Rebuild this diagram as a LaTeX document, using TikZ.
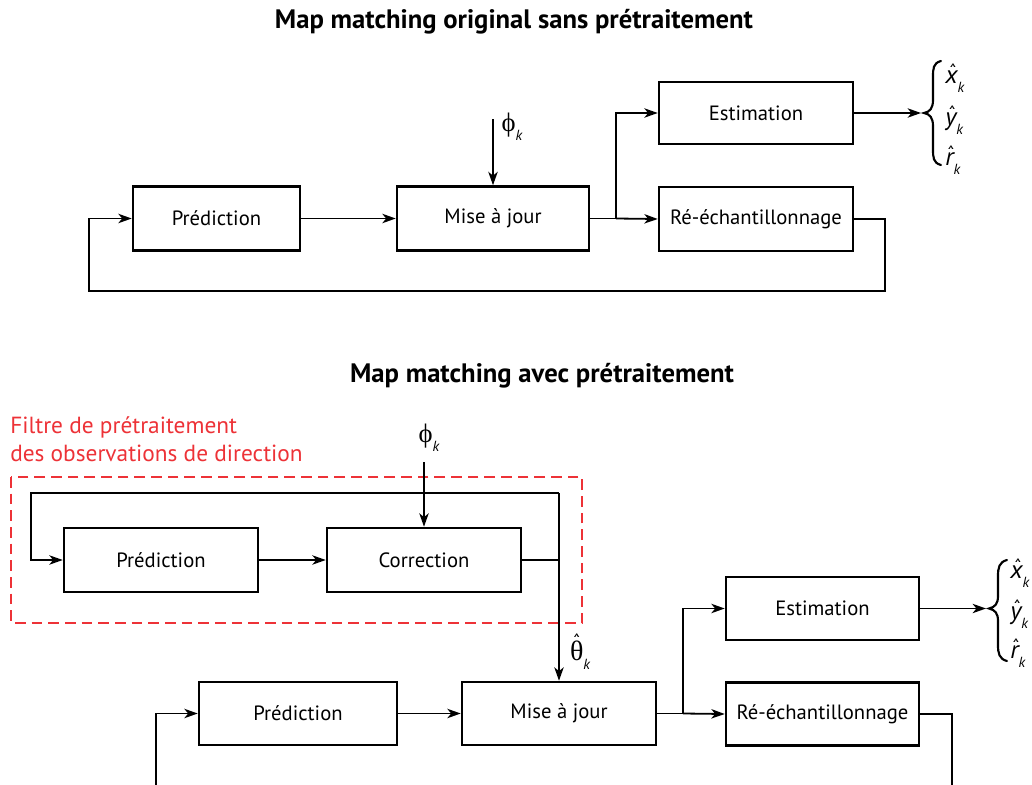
\documentclass[tikz,border=0pt]{standalone}
\usepackage{fontspec}
\setmainfont{PT Sans}
\newfontfamily\grk{Liberation Serif}
\usetikzlibrary{arrows.meta}
\definecolor{fred}{RGB}{237,50,55}
% #1 raise of the hat, #2 shift of the hat, #3 base
\newcommand{\hatover}[3]{\setbox0=\hbox{#3}\makebox[0pt][l]{\makebox[\wd0][c]{\hspace*{#2}\raisebox{#1}{\fontfamily{\familydefault}\upshape\fontsize{15}{15}\selectfont ˆ}}}\box0}
\newcommand{\subk}{\raisebox{-0.9ex}{\fontsize{11}{11}\selectfont\itshape k}}
\newcommand{\hatlab}[1]{{\fontsize{19}{20}\selectfont\itshape\hatover{0.2em}{0.12em}{#1}}\subk}
\begin{document}
\begin{tikzpicture}[x=0.75pt,y=-0.75pt,
  box/.style={draw, line width=1.9pt, inner sep=0pt, font=\fontsize{15.5}{18}\selectfont},
  conn/.style={line width=1.35pt},
  arr/.style={conn, -{Stealth[length=10pt,width=7pt,inset=2.8pt]}},
  ttl/.style={font=\fontsize{20}{22}\selectfont\bfseries},
  lab/.style={inner sep=0pt, font=\fontsize{15}{18}\selectfont},
  brace/.style={line width=1.6pt, line cap=round}]
\useasboundingbox (0,0) rectangle (1032,785);
\clip (0,0) rectangle (1032,785);

% ---------- top diagram ----------
\node[ttl] (t1) at (514,22) {Map matching original sans prétraitement};
\node[box, minimum width=125.25pt, minimum height=48pt] (P1) at (216.5,218.5) {Prédiction};
\node[box, minimum width=144pt, minimum height=48pt] (M1) at (493,218.5) {Mise à jour};
\node[box, minimum width=145.5pt, minimum height=46.5pt] (E1) at (756,113) {Estimation};
\node[box, minimum width=145.5pt, minimum height=48pt] (R1) at (756,219) {Ré-échantillonnage};

\draw[arr] (P1.east) -- (M1.west);
\coordinate (j1) at (616,218.5);
\draw[conn] (M1.east) -- (j1);
\draw[arr] (j1) |- (E1.west);
\draw[arr] (j1) -- (R1.west);
\coordinate (f1a) at (885,219);
\coordinate (f1b) at (885,291);
\coordinate (f1c) at (89,291);
\draw[arr] (R1.east) -- (f1a) -- (f1b) -- (f1c) |- (P1.west);

\coordinate (phi1) at (493,119);
\draw[arr] (phi1) -- (M1.north);
\node[lab] (phil1) at (512,127) {{\grk\fontsize{20}{20}\selectfont ϕ}\subk};

\coordinate (br1) at (921,113);
\draw[arr] (E1.east) -- (br1);
\draw[brace] (941,61) .. controls (933,63) and (933,69) .. (933,77) -- (933,100)
  .. controls (933,108) and (930,112) .. (924,113)
  .. controls (930,114) and (933,118) .. (933,126) -- (933,149)
  .. controls (933,157) and (933,163) .. (941,165);
\node[lab, anchor=west] (x1) at (945,78) {\hatlab{x}};
\node[lab, anchor=west] (y1) at (945,120) {\hatlab{y}};
\node[lab, anchor=west] (r1) at (945,160) {\hatlab{r}};

% ---------- bottom diagram ----------
\node[ttl] (t2) at (542,376) {Map matching avec prétraitement};
\node[anchor=north west, align=left, text=fred, inner sep=0pt, font=\fontsize{17.5}{21}\selectfont] (red) at (10,416) {Filtre de prétraitement\\des observations de direction};
\draw[fred, line width=1.3pt, dash pattern=on 8pt off 4.5pt] (11,477) rectangle (582,623);

\node[box, minimum width=145.5pt, minimum height=48pt] (P3) at (161,560) {Prédiction};
\node[box, minimum width=145.5pt, minimum height=48pt] (C3) at (424,560) {Correction};
\draw[arr] (P3.east) -- (C3.west);
\coordinate (phi2) at (424,462);
\draw[arr] (phi2) -- (C3.north);
\node[lab] (phil2) at (429,438) {{\grk\fontsize{20}{20}\selectfont ϕ}\subk};

\node[box, minimum width=148.5pt, minimum height=47.25pt] (P2) at (298,713.5) {Prédiction};
\node[box, minimum width=145.5pt, minimum height=47.25pt] (M2) at (559,713.5) {Mise à jour};
\node[box, minimum width=144.75pt, minimum height=47.25pt] (E2) at (822.5,608.5) {Estimation};
\node[box, minimum width=144.75pt, minimum height=47.25pt] (R2) at (822.5,714) {Ré-échantillonnage};

\coordinate (c3o) at (559,560);
\coordinate (lt) at (559,493);
\coordinate (ll) at (31,493);
\draw[conn] (C3.east) -- (c3o);
\draw[arr] (lt) -- (M2.north);
\draw[arr] (lt) -- (ll) |- (P3.west);
\node[lab] (th) at (580,652) {{\grk\fontsize{21}{21}\selectfont\hatover{0.42em}{0pt}{θ}}\subk};

\draw[arr] (P2.east) -- (M2.west);
\coordinate (j2) at (683,713.5);
\draw[conn] (M2.east) -- (j2);
\draw[arr] (j2) |- (E2.west);
\draw[arr] (j2) -- (R2.west);
\coordinate (f2a) at (952,714);
\coordinate (f2b) at (952,790);
\draw[conn] (R2.east) -- (f2a) -- (f2b);
\coordinate (f2c) at (156,790);
\draw[arr] (f2c) |- (P2.west);

\coordinate (br2) at (986,608.5);
\draw[arr] (E2.east) -- (br2);
\draw[brace] (1007,560) .. controls (999,562) and (998,568) .. (998,576) -- (998,596)
  .. controls (998,604) and (995,607) .. (989,608.5)
  .. controls (995,610) and (998,613) .. (998,621) -- (998,645)
  .. controls (998,653) and (999,659) .. (1007,661);
\node[lab, anchor=west] (x2) at (1010,573) {\hatlab{x}};
\node[lab, anchor=west] (y2) at (1010,614) {\hatlab{y}};
\node[lab, anchor=west] (r2) at (1010,653) {\hatlab{r}};
\end{tikzpicture}
\end{document}
